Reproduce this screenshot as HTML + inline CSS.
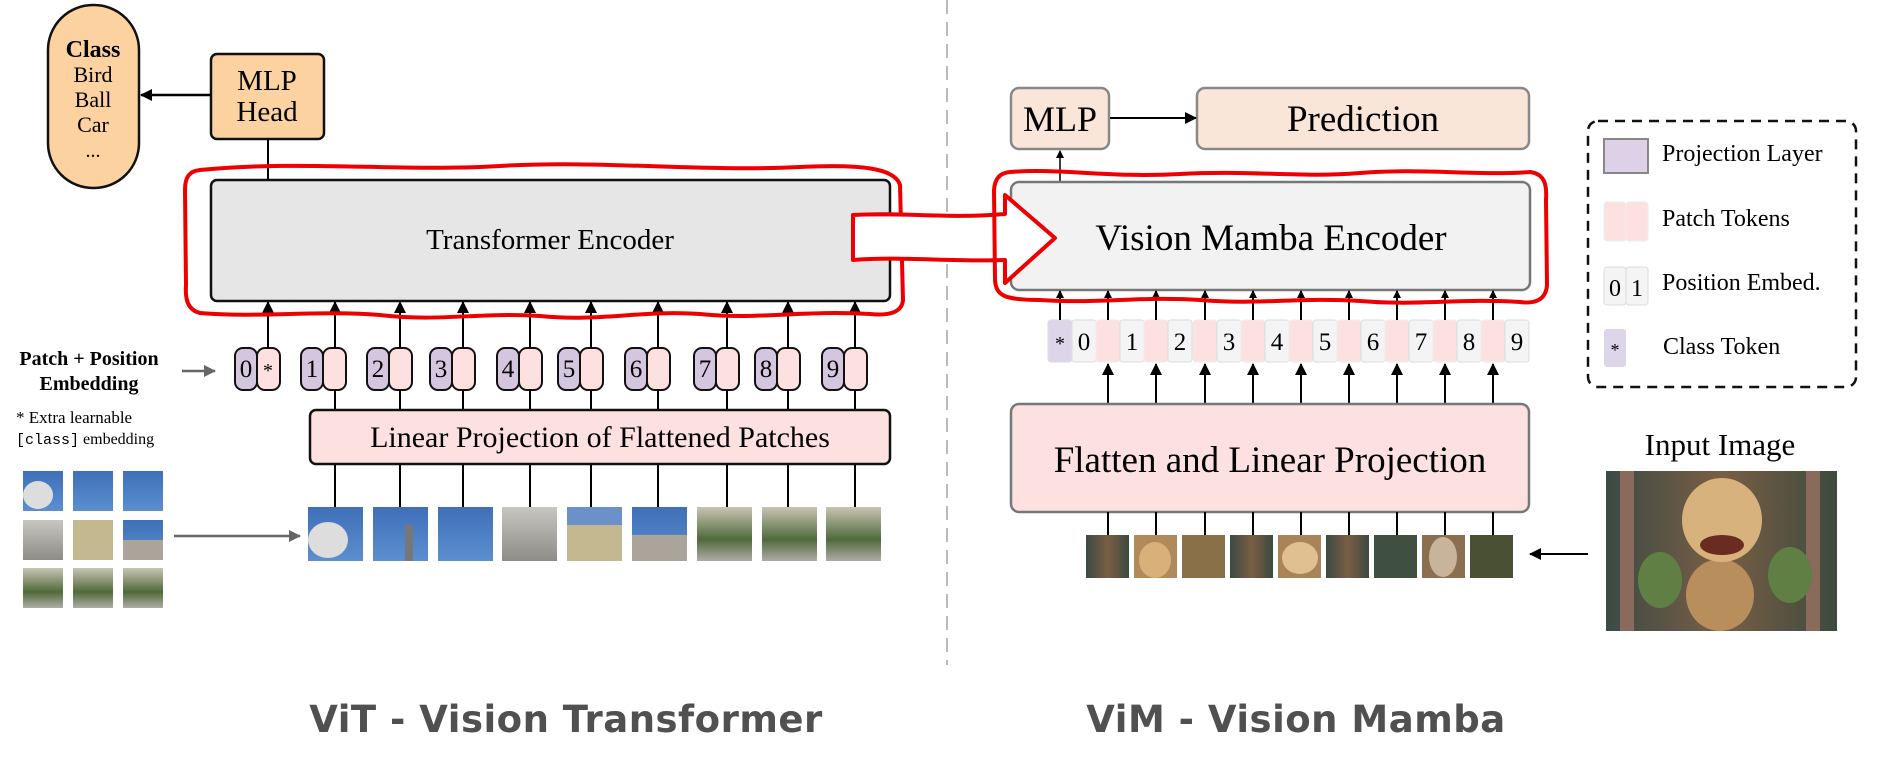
<!DOCTYPE html>
<html><head><meta charset="utf-8"><style>
html,body{margin:0;padding:0;background:#fff;}
svg{display:block;}
text{font-family:"Liberation Serif",serif;}
.t{font-family:"DejaVu Sans","Liberation Sans",sans-serif;fill:#505050;font-weight:bold;}
</style></head><body>
<svg width="1883" height="782" viewBox="0 0 1883 782" xmlns="http://www.w3.org/2000/svg">
<defs>
<marker id="ah" markerWidth="12" markerHeight="12" refX="11" refY="6" orient="auto" markerUnits="userSpaceOnUse"><path d="M0,0 L12,6 L0,12 Z" fill="#000"/></marker>
<marker id="ahs" markerWidth="8" markerHeight="8" refX="7" refY="4" orient="auto" markerUnits="userSpaceOnUse"><path d="M0,0 L8,4 L0,8 Z" fill="#000"/></marker>
<marker id="ahg" markerWidth="12" markerHeight="12" refX="11" refY="6" orient="auto" markerUnits="userSpaceOnUse"><path d="M0,0 L12,6 L0,12 Z" fill="#666"/></marker>
<linearGradient id="sky" x1="0" y1="0" x2="0" y2="1"><stop offset="0" stop-color="#3f6fb8"/><stop offset="1" stop-color="#5b8fd0"/></linearGradient>
<linearGradient id="bld" x1="0" y1="0" x2="0" y2="1"><stop offset="0" stop-color="#c8c6c0"/><stop offset="1" stop-color="#8e8c86"/></linearGradient>
<linearGradient id="grn" x1="0" y1="0" x2="0" y2="1"><stop offset="0" stop-color="#c9c4b4"/><stop offset="0.6" stop-color="#4f6a3c"/><stop offset="1" stop-color="#b0aca4"/></linearGradient>
<linearGradient id="snk" x1="0" y1="0" x2="1" y2="0"><stop offset="0" stop-color="#3b4a44"/><stop offset="0.5" stop-color="#7a5e45"/><stop offset="1" stop-color="#3d4a3e"/></linearGradient>
</defs>

<line x1="947" y1="0" x2="947" y2="665" stroke="#bbb" stroke-width="2" stroke-dasharray="14,8"/>

<rect x="48" y="5" width="91" height="183" rx="45" fill="#fcd3a0" stroke="#111" stroke-width="2.5"/>
<text x="93" y="57" font-size="24" font-weight="bold" text-anchor="middle">Class</text>
<text x="93" y="82" font-size="22" text-anchor="middle">Bird</text>
<text x="93" y="107" font-size="22" text-anchor="middle">Ball</text>
<text x="93" y="132" font-size="22" text-anchor="middle">Car</text>
<text x="93" y="157" font-size="20" text-anchor="middle">...</text>

<rect x="211" y="54" width="113" height="85" rx="6" fill="#fcd3a0" stroke="#111" stroke-width="2.5"/>
<text x="267" y="90" font-size="29" text-anchor="middle">MLP</text>
<text x="267" y="121" font-size="29" text-anchor="middle">Head</text>
<line x1="211" y1="95" x2="141" y2="95" stroke="#000" stroke-width="2.5" marker-end="url(#ah)"/>
<line x1="268" y1="139" x2="268" y2="180" stroke="#000" stroke-width="2"/>

<rect x="211" y="180" width="679" height="121" rx="6" fill="#e6e6e6" stroke="#111" stroke-width="2.5"/>
<text x="550" y="249" font-size="29" text-anchor="middle">Transformer Encoder</text>

<g font-size="25" text-anchor="middle">
<rect x="235" y="348" width="22" height="42" rx="8" fill="#d5c6e0" stroke="#111" stroke-width="2"/>
<rect x="257" y="348" width="23" height="42" rx="8" fill="#fde0e0" stroke="#111" stroke-width="2"/>
<text x="246" y="377">0</text><text x="268" y="377" font-size="20">*</text>
<rect x="301" y="348" width="22" height="42" rx="8" fill="#d5c6e0" stroke="#111" stroke-width="2"/>
<rect x="323" y="348" width="23" height="42" rx="8" fill="#fde0e0" stroke="#111" stroke-width="2"/>
<text x="312" y="377">1</text>
<rect x="367" y="348" width="22" height="42" rx="8" fill="#d5c6e0" stroke="#111" stroke-width="2"/>
<rect x="389" y="348" width="23" height="42" rx="8" fill="#fde0e0" stroke="#111" stroke-width="2"/>
<text x="378" y="377">2</text>
<rect x="430" y="348" width="22" height="42" rx="8" fill="#d5c6e0" stroke="#111" stroke-width="2"/>
<rect x="452" y="348" width="23" height="42" rx="8" fill="#fde0e0" stroke="#111" stroke-width="2"/>
<text x="441" y="377">3</text>
<rect x="497" y="348" width="22" height="42" rx="8" fill="#d5c6e0" stroke="#111" stroke-width="2"/>
<rect x="519" y="348" width="23" height="42" rx="8" fill="#fde0e0" stroke="#111" stroke-width="2"/>
<text x="508" y="377">4</text>
<rect x="558" y="348" width="22" height="42" rx="8" fill="#d5c6e0" stroke="#111" stroke-width="2"/>
<rect x="580" y="348" width="23" height="42" rx="8" fill="#fde0e0" stroke="#111" stroke-width="2"/>
<text x="569" y="377">5</text>
<rect x="625" y="348" width="22" height="42" rx="8" fill="#d5c6e0" stroke="#111" stroke-width="2"/>
<rect x="647" y="348" width="23" height="42" rx="8" fill="#fde0e0" stroke="#111" stroke-width="2"/>
<text x="636" y="377">6</text>
<rect x="694" y="348" width="22" height="42" rx="8" fill="#d5c6e0" stroke="#111" stroke-width="2"/>
<rect x="716" y="348" width="23" height="42" rx="8" fill="#fde0e0" stroke="#111" stroke-width="2"/>
<text x="705" y="377">7</text>
<rect x="755" y="348" width="22" height="42" rx="8" fill="#d5c6e0" stroke="#111" stroke-width="2"/>
<rect x="777" y="348" width="23" height="42" rx="8" fill="#fde0e0" stroke="#111" stroke-width="2"/>
<text x="766" y="377">8</text>
<rect x="822" y="348" width="22" height="42" rx="8" fill="#d5c6e0" stroke="#111" stroke-width="2"/>
<rect x="844" y="348" width="23" height="42" rx="8" fill="#fde0e0" stroke="#111" stroke-width="2"/>
<text x="833" y="377">9</text>
</g>
<g stroke="#000" stroke-width="2" marker-end="url(#ah)">
<line x1="268" y1="348" x2="268" y2="302"/><line x1="335" y1="348" x2="335" y2="302"/>
<line x1="400" y1="348" x2="400" y2="302"/><line x1="463" y1="348" x2="463" y2="302"/>
<line x1="530" y1="348" x2="530" y2="302"/><line x1="591" y1="348" x2="591" y2="302"/>
<line x1="658" y1="348" x2="658" y2="302"/><line x1="727" y1="348" x2="727" y2="302"/>
<line x1="788" y1="348" x2="788" y2="302"/><line x1="855" y1="348" x2="855" y2="302"/>
</g>
<g stroke="#000" stroke-width="2">
<line x1="335" y1="390" x2="335" y2="507"/><line x1="400" y1="390" x2="400" y2="507"/>
<line x1="463" y1="390" x2="463" y2="507"/><line x1="530" y1="390" x2="530" y2="507"/>
<line x1="591" y1="390" x2="591" y2="507"/><line x1="658" y1="390" x2="658" y2="507"/>
<line x1="727" y1="390" x2="727" y2="507"/><line x1="788" y1="390" x2="788" y2="507"/>
<line x1="855" y1="390" x2="855" y2="507"/>
</g>
<rect x="310" y="410" width="580" height="54" rx="6" fill="#fde0e0" stroke="#111" stroke-width="2.5"/>
<text x="600" y="447" font-size="30" text-anchor="middle">Linear Projection of Flattened Patches</text>

<g>
<rect x="308" y="507" width="55" height="54" fill="url(#sky)"/><ellipse cx="328" cy="540" rx="20" ry="18" fill="#ddd"/>
<rect x="373" y="507" width="55" height="54" fill="url(#sky)"/><rect x="405" y="525" width="8" height="36" fill="#777"/>
<rect x="438" y="507" width="55" height="54" fill="url(#sky)"/>
<rect x="502" y="507" width="55" height="54" fill="url(#bld)"/>
<rect x="567" y="507" width="55" height="54" fill="#c4b890"/><rect x="567" y="507" width="55" height="18" fill="#6c90c8"/>
<rect x="632" y="507" width="55" height="54" fill="url(#sky)"/><rect x="632" y="535" width="55" height="26" fill="#aaa49a"/>
<rect x="697" y="507" width="55" height="54" fill="url(#grn)"/>
<rect x="762" y="507" width="55" height="54" fill="url(#grn)"/>
<rect x="826" y="507" width="55" height="54" fill="url(#grn)"/>
</g>

<text x="89" y="365" font-size="20" font-weight="bold" text-anchor="middle">Patch + Position</text>
<text x="89" y="390" font-size="20" font-weight="bold" text-anchor="middle">Embedding</text>
<line x1="182" y1="371" x2="215" y2="371" stroke="#666" stroke-width="2.5" marker-end="url(#ahg)"/>
<text x="16" y="423" font-size="17">* Extra learnable</text>
<text x="16" y="444" font-size="16"><tspan font-family="Liberation Mono, monospace" font-size="15">[class]</tspan> embedding</text>

<g>
<rect x="23" y="471" width="40" height="40" fill="url(#sky)"/><ellipse cx="38" cy="495" rx="15" ry="14" fill="#ddd"/>
<rect x="73" y="471" width="40" height="40" fill="url(#sky)"/>
<rect x="123" y="471" width="40" height="40" fill="url(#sky)"/>
<rect x="23" y="520" width="40" height="40" fill="url(#bld)"/>
<rect x="73" y="520" width="40" height="40" fill="#c4b890"/>
<rect x="123" y="520" width="40" height="40" fill="url(#sky)"/><rect x="123" y="540" width="40" height="20" fill="#aaa49a"/>
<rect x="23" y="568" width="40" height="40" fill="url(#grn)"/>
<rect x="73" y="568" width="40" height="40" fill="url(#grn)"/>
<rect x="123" y="568" width="40" height="40" fill="url(#grn)"/>
</g>
<line x1="174" y1="536" x2="300" y2="536" stroke="#666" stroke-width="2.5" marker-end="url(#ahg)"/>

<text class="t" x="566" y="732" font-size="37" text-anchor="middle" letter-spacing="0.5">ViT - Vision Transformer</text>

<path d="M200,170 C300,160 400,172 500,166 C600,160 700,172 800,167 C860,164 895,168 900,185 L903,300 C902,312 890,316 870,314 C800,310 760,320 700,314 C640,310 600,322 540,316 C480,312 440,322 380,315 C320,310 260,318 200,313 C188,310 185,300 186,285 L185,190 C185,176 190,171 200,170 Z" fill="none" stroke="#e00" stroke-width="4"/>

<rect x="1011" y="88" width="98" height="61" rx="8" fill="#fae5d9" stroke="#888" stroke-width="2.5"/>
<text x="1060" y="131" font-size="36" text-anchor="middle">MLP</text>
<rect x="1197" y="88" width="332" height="61" rx="8" fill="#fae5d9" stroke="#888" stroke-width="2.5"/>
<text x="1363" y="131" font-size="37" text-anchor="middle">Prediction</text>
<line x1="1110" y1="118" x2="1196" y2="118" stroke="#000" stroke-width="2" marker-end="url(#ah)"/>
<line x1="1060" y1="182" x2="1060" y2="151" stroke="#000" stroke-width="1.5" marker-end="url(#ahs)"/>

<rect x="1011" y="182" width="519" height="108" rx="8" fill="#f2f2f2" stroke="#777" stroke-width="2.5"/>
<text x="1271" y="250" font-size="37" text-anchor="middle">Vision Mamba Encoder</text>

<path d="M853,215 C900,212 950,219 1005,214 L1005,195 L1055,238 L1005,283 L1005,260 C950,262 900,256 853,260 Z" fill="#fff" stroke="#e00" stroke-width="4" stroke-linejoin="round"/>

<rect x="1048" y="320" width="24" height="42" rx="3" fill="#ddd6ea" stroke="#ddd"/>
<g font-size="25" text-anchor="middle">
<text x="1060" y="350" font-size="20">*</text>
<rect x="1072" y="320" width="24" height="42" rx="3" fill="#f4f4f4" stroke="#ddd"/><text x="1084" y="350">0</text>
<rect x="1096" y="320" width="24" height="42" rx="3" fill="#fde0e0" stroke="#eee"/>
<rect x="1120" y="320" width="24" height="42" rx="3" fill="#f4f4f4" stroke="#ddd"/><text x="1132" y="350">1</text>
<rect x="1144" y="320" width="24" height="42" rx="3" fill="#fde0e0" stroke="#eee"/>
<rect x="1168" y="320" width="24" height="42" rx="3" fill="#f4f4f4" stroke="#ddd"/><text x="1180" y="350">2</text>
<rect x="1193" y="320" width="24" height="42" rx="3" fill="#fde0e0" stroke="#eee"/>
<rect x="1217" y="320" width="24" height="42" rx="3" fill="#f4f4f4" stroke="#ddd"/><text x="1229" y="350">3</text>
<rect x="1241" y="320" width="24" height="42" rx="3" fill="#fde0e0" stroke="#eee"/>
<rect x="1265" y="320" width="24" height="42" rx="3" fill="#f4f4f4" stroke="#ddd"/><text x="1277" y="350">4</text>
<rect x="1289" y="320" width="24" height="42" rx="3" fill="#fde0e0" stroke="#eee"/>
<rect x="1313" y="320" width="24" height="42" rx="3" fill="#f4f4f4" stroke="#ddd"/><text x="1325" y="350">5</text>
<rect x="1337" y="320" width="24" height="42" rx="3" fill="#fde0e0" stroke="#eee"/>
<rect x="1361" y="320" width="24" height="42" rx="3" fill="#f4f4f4" stroke="#ddd"/><text x="1373" y="350">6</text>
<rect x="1385" y="320" width="24" height="42" rx="3" fill="#fde0e0" stroke="#eee"/>
<rect x="1409" y="320" width="24" height="42" rx="3" fill="#f4f4f4" stroke="#ddd"/><text x="1421" y="350">7</text>
<rect x="1433" y="320" width="24" height="42" rx="3" fill="#fde0e0" stroke="#eee"/>
<rect x="1457" y="320" width="24" height="42" rx="3" fill="#f4f4f4" stroke="#ddd"/><text x="1469" y="350">8</text>
<rect x="1481" y="320" width="24" height="42" rx="3" fill="#fde0e0" stroke="#eee"/>
<rect x="1505" y="320" width="24" height="42" rx="3" fill="#f4f4f4" stroke="#ddd"/><text x="1517" y="350">9</text>
</g>
<g stroke="#000" stroke-width="2" marker-end="url(#ahs)">
<line x1="1060" y1="320" x2="1060" y2="291"/><line x1="1108" y1="320" x2="1108" y2="291"/>
<line x1="1156" y1="320" x2="1156" y2="291"/><line x1="1205" y1="320" x2="1205" y2="291"/>
<line x1="1253" y1="320" x2="1253" y2="291"/><line x1="1301" y1="320" x2="1301" y2="291"/>
<line x1="1349" y1="320" x2="1349" y2="291"/><line x1="1397" y1="320" x2="1397" y2="291"/>
<line x1="1445" y1="320" x2="1445" y2="291"/><line x1="1493" y1="320" x2="1493" y2="291"/>
</g>
<g stroke="#000" stroke-width="2" marker-end="url(#ah)">
<line x1="1108" y1="404" x2="1108" y2="364"/><line x1="1156" y1="404" x2="1156" y2="364"/>
<line x1="1205" y1="404" x2="1205" y2="364"/><line x1="1253" y1="404" x2="1253" y2="364"/>
<line x1="1301" y1="404" x2="1301" y2="364"/><line x1="1349" y1="404" x2="1349" y2="364"/>
<line x1="1397" y1="404" x2="1397" y2="364"/><line x1="1445" y1="404" x2="1445" y2="364"/>
<line x1="1493" y1="404" x2="1493" y2="364"/>
</g>
<rect x="1011" y="404" width="518" height="108" rx="8" fill="#fde0e0" stroke="#777" stroke-width="2.5"/>
<text x="1270" y="472" font-size="37" text-anchor="middle">Flatten and Linear Projection</text>
<g stroke="#000" stroke-width="2">
<line x1="1108" y1="512" x2="1108" y2="535"/><line x1="1156" y1="512" x2="1156" y2="535"/>
<line x1="1205" y1="512" x2="1205" y2="535"/><line x1="1253" y1="512" x2="1253" y2="535"/>
<line x1="1301" y1="512" x2="1301" y2="535"/><line x1="1349" y1="512" x2="1349" y2="535"/>
<line x1="1397" y1="512" x2="1397" y2="535"/><line x1="1445" y1="512" x2="1445" y2="535"/>
<line x1="1493" y1="512" x2="1493" y2="535"/>
</g>
<g>
<rect x="1086" y="535" width="43" height="43" fill="url(#snk)"/>
<rect x="1134" y="535" width="43" height="43" fill="#b08a5a"/><ellipse cx="1155" cy="560" rx="16" ry="18" fill="#d8b07a"/>
<rect x="1182" y="535" width="43" height="43" fill="#8a7048"/>
<rect x="1230" y="535" width="43" height="43" fill="url(#snk)"/>
<rect x="1278" y="535" width="43" height="43" fill="#a88458"/><ellipse cx="1300" cy="558" rx="18" ry="16" fill="#e0c090"/>
<rect x="1326" y="535" width="43" height="43" fill="url(#snk)"/>
<rect x="1374" y="535" width="43" height="43" fill="#3f5040"/>
<rect x="1422" y="535" width="43" height="43" fill="#8a7050"/><ellipse cx="1443" cy="557" rx="14" ry="20" fill="#c8b49a"/>
<rect x="1470" y="535" width="43" height="43" fill="#4a5034"/>
</g>
<line x1="1588" y1="554" x2="1530" y2="554" stroke="#000" stroke-width="2" marker-end="url(#ah)"/>

<text x="1720" y="455" font-size="31" text-anchor="middle">Input Image</text>
<rect x="1606" y="471" width="231" height="160" fill="url(#snk)"/>
<rect x="1620" y="471" width="14" height="160" fill="#8a6a5a"/>
<rect x="1806" y="471" width="14" height="160" fill="#8a6a5a"/>
<ellipse cx="1660" cy="580" rx="22" ry="28" fill="#5f7f45"/>
<ellipse cx="1790" cy="575" rx="22" ry="28" fill="#5f7f45"/>
<ellipse cx="1720" cy="595" rx="34" ry="36" fill="#b88f5c"/>
<ellipse cx="1722" cy="520" rx="40" ry="42" fill="#d8b27c"/>
<ellipse cx="1722" cy="545" rx="22" ry="10" fill="#6a2b20"/>

<rect x="1588" y="121" width="268" height="266" rx="10" fill="none" stroke="#111" stroke-width="2.5" stroke-dasharray="10,7"/>
<rect x="1604" y="139" width="44" height="34" fill="#ddd1e8" stroke="#888" stroke-width="2"/>
<text x="1662" y="161" font-size="24">Projection Layer</text>
<rect x="1604" y="202" width="22" height="39" rx="3" fill="#fde0e0" stroke="#eee"/>
<rect x="1626" y="202" width="22" height="39" rx="3" fill="#fde0e0" stroke="#eee"/>
<text x="1662" y="226" font-size="24">Patch Tokens</text>
<rect x="1604" y="267" width="22" height="38" rx="3" fill="#f4f4f4" stroke="#ddd"/>
<rect x="1626" y="267" width="22" height="38" rx="3" fill="#f4f4f4" stroke="#ddd"/>
<text x="1615" y="296" font-size="24" text-anchor="middle">0</text>
<text x="1637" y="296" font-size="24" text-anchor="middle">1</text>
<text x="1662" y="290" font-size="24">Position Embed.</text>
<rect x="1604" y="329" width="22" height="38" rx="3" fill="#ddd6ea"/>
<text x="1615" y="356" font-size="18" text-anchor="middle">*</text>
<text x="1663" y="354" font-size="24">Class Token</text>

<path d="M1010,172 C1060,168 1110,178 1180,174 C1250,170 1300,178 1360,173 C1420,168 1480,176 1530,172 C1545,174 1547,185 1546,200 L1547,285 C1546,300 1535,304 1520,302 C1460,298 1420,306 1360,301 C1300,297 1260,305 1200,300 C1140,296 1100,304 1040,300 C1005,300 996,296 995,280 L994,190 C995,178 1000,173 1010,172 Z" fill="none" stroke="#e00" stroke-width="4"/>

<text class="t" x="1296" y="732" font-size="37" text-anchor="middle" letter-spacing="0.5">ViM - Vision Mamba</text>
</svg>
</body></html>
